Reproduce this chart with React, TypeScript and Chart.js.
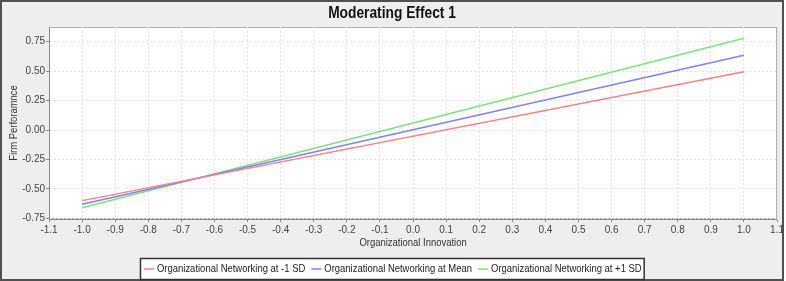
import React, { useEffect, useRef } from "react";
import { Chart, registerables } from "chart.js";

Chart.register(...registerables);

const chartTitle = "Moderating Effect 1";
const xTitle = "Organizational Innovation";
const yTitle = "Firm Perforamnce";
const xPoints = [-1.0, 1.0];
const lowSD = [-0.6, 0.494];
const meanSD = [-0.63, 0.635];
const highSD = [-0.66, 0.78];
const seriesNames = [
  "Organizational Networking at -1 SD",
  "Organizational Networking at Mean",
  "Organizational Networking at +1 SD",
];
const seriesColors = ["#ff8080", "#8080ff", "#80e080"];
const xTicks = [-1.1, -1.0, -0.9, -0.8, -0.7, -0.6, -0.5, -0.4, -0.3, -0.2, -0.1, 0.0, 0.1, 0.2, 0.3, 0.4, 0.5, 0.6, 0.7, 0.8, 0.9, 1.0, 1.1];
const yTicks = [-0.75, -0.5, -0.25, 0.0, 0.25, 0.5, 0.75];

const FONT = "'Liberation Sans', Arial, sans-serif";
const SX = 0.86;

function scaledText(ctx: CanvasRenderingContext2D, text: string, x: number, y: number, align: "left" | "center", sx: number, rot = 0) {
  ctx.save();
  ctx.translate(x, y);
  if (rot) ctx.rotate(rot);
  ctx.scale(sx, 1);
  ctx.textAlign = align;
  ctx.textBaseline = "middle";
  ctx.fillText(text, 0, 0);
  ctx.restore();
}

const framePlugin = {
  id: "frame",
  beforeDraw(chart: any) {
    const { ctx, chartArea } = chart;
    ctx.save();
    ctx.fillStyle = "#ffffff";
    ctx.fillRect(0, 0, chart.width, chart.height);
    ctx.fillStyle = "#eeeeee";
    ctx.fillRect(0, 0, 784, 281);
    ctx.strokeStyle = "#505050";
    ctx.lineWidth = 2;
    ctx.strokeRect(1, 1, 782, 279);
    ctx.fillStyle = "#ffffff";
    ctx.fillRect(chartArea.left, chartArea.top, chartArea.right - chartArea.left, chartArea.bottom - chartArea.top);
    ctx.strokeStyle = "#b0b0b0";
    ctx.lineWidth = 1;
    ctx.strokeRect(chartArea.left + 0.5, chartArea.top + 0.5, chartArea.right - chartArea.left - 1, chartArea.bottom - chartArea.top - 1);
    ctx.restore();
  },
  afterDraw(chart: any) {
    const { ctx, chartArea } = chart;
    ctx.save();
    ctx.setLineDash([]);
    ctx.strokeStyle = "#8a8a8a";
    ctx.lineWidth = 1;
    ctx.beginPath();
    ctx.moveTo(chartArea.left + 0.5, chartArea.top);
    ctx.lineTo(chartArea.left + 0.5, chartArea.bottom + 0.5);
    ctx.lineTo(chartArea.right, chartArea.bottom + 0.5);
    ctx.stroke();
    ctx.fillStyle = "#111111";
    ctx.font = `bold 16px ${FONT}`;
    scaledText(ctx, chartTitle, 392, 14, "center", SX);
    ctx.fillStyle = "#333333";
    ctx.font = `11px ${FONT}`;
    scaledText(ctx, xTitle, (chartArea.left + chartArea.right) / 2, 243, "center", SX);
    scaledText(ctx, yTitle, 14, (chartArea.top + chartArea.bottom) / 2, "center", SX, -Math.PI / 2);
    ctx.font = `11px ${FONT}`;
    const lineLen = 10;
    const gapLine = 3;
    const gapItem = 6;
    const widths = seriesNames.map((n) => ctx.measureText(n).width * SX);
    const total = widths.reduce((a, b) => a + b, 0) + seriesNames.length * (lineLen + gapLine) + (seriesNames.length - 1) * gapItem + 6;
    const bx = Math.round(392 - total / 2);
    const by = 258;
    const bh = 21;
    ctx.fillStyle = "#ffffff";
    ctx.fillRect(bx, by, total, bh);
    ctx.strokeStyle = "#333333";
    ctx.lineWidth = 1.5;
    ctx.strokeRect(bx + 0.5, by + 0.5, total, bh);
    let x = bx + 4;
    const cy = by + 11;
    seriesNames.forEach((n, i) => {
      ctx.strokeStyle = seriesColors[i];
      ctx.lineWidth = 1.5;
      ctx.beginPath();
      ctx.moveTo(x, cy);
      ctx.lineTo(x + lineLen, cy);
      ctx.stroke();
      x += lineLen + gapLine;
      ctx.fillStyle = "#222222";
      scaledText(ctx, n, x, cy, "left", SX);
      x += widths[i] + gapItem;
    });
    ctx.restore();
  },
};

export default function App() {
  const ref = useRef<HTMLCanvasElement | null>(null);
  useEffect(() => {
    document.body.style.margin = "0";
    const mk = (vals: number[]) => xPoints.map((x, i) => ({ x, y: vals[i] }));
    const gridOpts: any = {
      color: "#e2e2e2",
      tickLength: 3,
      tickColor: "#888888",
      tickBorderDash: [],
    };
    const borderOpts: any = { display: true, color: "rgba(0,0,0,0)", dash: [2, 2] };
    const chart = new Chart(ref.current as HTMLCanvasElement, {
      type: "line",
      data: {
        datasets: [lowSD, meanSD, highSD].map((vals, i) => ({
          label: seriesNames[i],
          data: mk(vals),
          borderColor: seriesColors[i],
          backgroundColor: seriesColors[i],
          borderWidth: 1.5,
          pointRadius: 0,
          tension: 0,
          fill: false,
        })),
      },
      options: {
        responsive: false,
        animation: false,
        devicePixelRatio: 1,
        layout: { padding: { top: 27, left: 0, right: 7, bottom: 31 } },
        plugins: { legend: { display: false }, title: { display: false }, tooltip: { enabled: false } },
        scales: {
          x: {
            type: "linear",
            min: -1.1,
            max: 1.1,
            afterBuildTicks: (s: any) => {
              s.ticks = xTicks.map((v) => ({ value: v }));
            },
            afterFit: (s: any) => {
              s.height = 31;
            },
            ticks: {
              callback: (v: any) => Number(v).toFixed(1),
              font: { family: FONT, size: 10 },
              color: "#444444",
              padding: 2,
              maxRotation: 0,
              autoSkip: false,
            },
            grid: gridOpts,
            border: borderOpts,
            title: { display: false },
          },
          y: {
            type: "linear",
            min: -0.756,
            max: 0.875,
            afterBuildTicks: (s: any) => {
              s.ticks = yTicks.map((v) => ({ value: v }));
            },
            afterFit: (s: any) => {
              s.width = 49;
            },
            ticks: {
              callback: (v: any) => Number(v).toFixed(2),
              font: { family: FONT, size: 10 },
              color: "#444444",
              padding: 1,
              autoSkip: false,
            },
            grid: gridOpts,
            border: borderOpts,
            title: { display: false },
          },
        },
      },
      plugins: [framePlugin],
    } as any);
    return () => chart.destroy();
  }, []);
  return <canvas ref={ref} width={786} height={281} style={{ display: "block" }} />;
}
